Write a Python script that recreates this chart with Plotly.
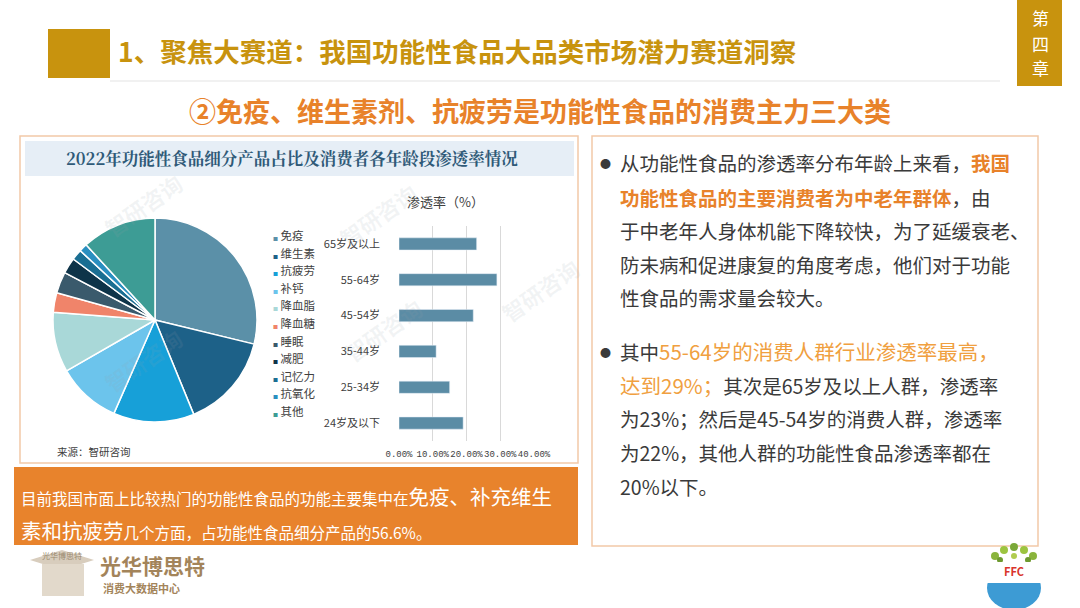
import plotly.graph_objects as go

W, H = 1080, 608


def px(x):
    return x / W


def py(y):
    return 1 - y / H


# ---------------- data ----------------
pie_labels = ["免疫", "维生素", "抗疲劳", "补钙", "降血脂", "降血糖", "睡眠", "减肥", "记忆力", "抗氧化", "其他"]
pie_values = [28.8, 15.0, 12.8, 10.1, 9.5, 3.1, 3.4, 2.5, 1.7, 1.3, 11.8]
pie_colors = ["#5b90a8", "#1d6188", "#17a0d8", "#6cc4ec", "#a9d8d8", "#f0846a",
              "#3a5a6c", "#0e3449", "#1a6e92", "#2a8fc0", "#3d9c95"]

age_groups = ["65岁及以上", "55-64岁", "45-54岁", "35-44岁", "25-34岁", "24岁及以下"]
penetration = [0.23, 0.29, 0.22, 0.11, 0.15, 0.19]
x_tick_vals = [0, 0.1, 0.2, 0.3, 0.4]
x_tick_text = ["0.00%", "10.00%", "20.00%", "30.00%", "40.00%"]

FONT = "Noto Sans CJK SC"
GOLD = "#c8930e"
ORANGE = "#e8822a"
LIGHT_ORANGE = "#f0a040"
TXT = "#3a3a3a"

fig = go.Figure()

fig.add_trace(go.Pie(
    labels=pie_labels, values=pie_values, sort=False, direction="clockwise",
    rotation=0, marker=dict(colors=pie_colors, line=dict(color="white", width=1.5)),
    textinfo="none", hoverinfo="label+percent", showlegend=False, automargin=False,
    domain=dict(x=[px(53), px(257)], y=[py(422), py(218)]),
))

fig.add_trace(go.Bar(
    y=age_groups, x=penetration, orientation="h", marker_color="#5b8ca5",
    width=0.34, showlegend=False, xaxis="x", yaxis="y",
))

shapes = []


def rect(x0, y0, x1, y1, fill, line=None):
    shapes.append(dict(type="rect", xref="paper", yref="paper", x0=px(x0), x1=px(x1), y0=py(y1), y1=py(y0),
                       fillcolor=fill, line=line or dict(width=0), layer="below"))


def circle(cx, cy, r, fill):
    shapes.append(dict(type="circle", xref="paper", yref="paper", x0=px(cx - r), x1=px(cx + r),
                       y0=py(cy + r), y1=py(cy - r), fillcolor=fill, line=dict(width=0), layer="below"))


# title gold block and underline
rect(48, 29, 110, 78, GOLD)
shapes.append(dict(type="line", xref="paper", yref="paper", x0=px(110), x1=px(1000), y0=py(81), y1=py(81),
                   line=dict(color="#ececec", width=1.5), layer="below"))
# right chapter tab
rect(1017, 0, 1062, 86, GOLD)
# chart box
rect(20, 136, 578, 463, "white", dict(color="#f2c9a8", width=1.5))
rect(25, 141, 574, 176, "#e6eef6")
# right text box
rect(592, 136, 1038, 546, "white", dict(color="#f2c9a8", width=1.5))
# orange summary box
rect(14, 467, 578, 545, "#e8832c")
# left emblem (cap)
shapes.append(dict(type="path", xref="paper", yref="paper",
                   path="M %f,%f L %f,%f L %f,%f L %f,%f Z" % (px(30), py(560), px(62), py(550), px(94), py(560), px(62), py(570)),
                   fillcolor="#d8cdbd", line=dict(width=0), layer="below"))
rect(42, 564, 84, 596, "#e2d9cb")
# FFC logo: green leaves + blue globe
for (cx, cy, r, c) in [(995, 556, 4, "#8ab43c"), (1004, 550, 4, "#9cc440"), (1014, 547, 4, "#7aa838"),
                       (1024, 550, 4, "#9cc440"), (1033, 556, 4, "#8ab43c"), (1000, 560, 3, "#6e9a30"),
                       (1028, 560, 3, "#6e9a30"), (1014, 556, 3, "#b0cc50")]:
    circle(cx, cy, r, c)
shapes.append(dict(type="circle", xref="paper", yref="paper", x0=px(987), x1=px(1041), y0=py(610), y1=py(566),
                   fillcolor="#3d9bd4", line=dict(width=0), layer="below"))
rect(985, 562, 1043, 583, "white")

ann = []


def add_text(x, y, text, size, color=TXT, xanchor="left", bold=False, family=FONT, **kw):
    if bold:
        text = "<b>" + text + "</b>"
    ann.append(dict(x=px(x), y=py(y), xref="paper", yref="paper", text=text, showarrow=False,
                    xanchor=xanchor, yanchor="middle", font=dict(size=size, color=color, family=family), **kw))


# headings
add_text(116, 51, "1、聚焦大赛道：我国功能性食品大品类市场潜力赛道洞察", 26.5, GOLD, bold=True)
add_text(540, 110, "②免疫、维生素剂、抗疲劳是功能性食品的消费主力三大类", 27, ORANGE, xanchor="center", bold=True)
for k, ch in enumerate("第四章"):
    add_text(1040, 18 + k * 25, ch, 17, "white", xanchor="center", borderpad=0)

# chart title
add_text(292, 158, "2022年功能性食品细分产品占比及消费者各年龄段渗透率情况", 16.5, "#2f5a78", xanchor="center", bold=True,
         family="Noto Serif CJK SC, Noto Sans CJK SC")
add_text(445, 201, "渗透率（%）", 13, "#404040", xanchor="center")
add_text(55, 451, "来源：智研咨询", 10.5, "#404040")

# watermarks
for (wx, wy) in [(95, 205), (330, 215), (335, 330), (95, 360), (540, 290)]:
    ann.append(dict(x=px(wx), y=py(wy), xref="paper", yref="paper", text="<b>智研咨询</b>", showarrow=False,
                    textangle=-35, font=dict(size=22, color="rgba(150,160,170,0.12)", family=FONT)))

# custom legend
for i, (lab, col) in enumerate(zip(pie_labels, pie_colors)):
    add_text(271, 235 + i * 17.6,
             '<span style="color:%s;font-size:5px">■</span> %s' % (col, lab), 11.5, "#404040")

# right text box
bullet_lines = [
    (162, '从功能性食品的渗透率分布年龄上来看，<b><span style="color:%s">我国</span></b>' % ORANGE, True),
    (197, '<b><span style="color:%s">功能性食品的主要消费者为中老年群体</span></b>，由' % ORANGE, False),
    (231, '于中老年人身体机能下降较快，为了延缓衰老、', False),
    (264, '防未病和促进康复的角度考虑，他们对于功能', False),
    (298, '性食品的需求量会较大。', False),
    (351, '其中<span style="color:%s;font-size:20.5px">55-64岁的消费人群行业渗透率最高，</span>' % LIGHT_ORANGE, True),
    (385, '<span style="color:%s;font-size:20.5px">达到29%%；</span>其次是65岁及以上人群，渗透率' % LIGHT_ORANGE, False),
    (418, '为23%；然后是45-54岁的消费人群，渗透率', False),
    (452, '为22%，其他人群的功能性食品渗透率都在', False),
    (486, '20%以下。', False),
]
for y, t, bullet in bullet_lines:
    add_text(618, y, t, 19.5, TXT)
    if bullet:
        add_text(598, y + 1, "●", 11, TXT)

# orange box text
add_text(19, 496, '<span style="font-size:15.5px">目前我国市面上比较热门的功能性食品的功能主要集中在</span>'
                  '<span style="font-size:20.5px">免疫、补充维生</span>', 15.5, "white")
add_text(19, 530, '<span style="font-size:20.5px">素和抗疲劳</span>'
                  '<span style="font-size:15.5px">几个方面，占功能性食品细分产品的56.6%。</span>', 15.5, "white")

# logos
add_text(62, 555, "光华博思特", 8, "#9a8a70", xanchor="center")
add_text(98, 565, "光华博思特", 21, "#a3845a", bold=True)
add_text(101, 588, "消费大数据中心", 11, "#a3845a", bold=True)
add_text(1014, 571, "FFC", 11, "#d9342b", xanchor="center", bold=True)

fig.update_layout(
    width=W, height=H, margin=dict(l=0, r=0, t=0, b=0, pad=0, autoexpand=False),
    paper_bgcolor="white", plot_bgcolor="rgba(0,0,0,0)",
    font=dict(family=FONT, color=TXT),
    shapes=shapes, annotations=ann, bargap=0.66,
    xaxis=dict(domain=[px(399), px(534)], range=[0, 0.4], tickvals=x_tick_vals, ticktext=x_tick_text,
               showgrid=True, gridcolor="#d9d9d9", gridwidth=1, zeroline=False, showline=False,
               tickfont=dict(size=9, color="#404040", family="Liberation Mono"), ticks="", tickangle=0,
               ticklabelstandoff=6, fixedrange=True, automargin=False),
    yaxis=dict(domain=[py(441), py(226)], autorange="reversed", showgrid=False, zeroline=False,
               showline=False, ticks="", tickfont=dict(size=11, color="#404040", family=FONT),
               ticklabelstandoff=18, fixedrange=True, automargin=False),
)

fig.write_html("out.html", config={"displayModeBar": False},
               post_script="document.body.style.margin='0';")
